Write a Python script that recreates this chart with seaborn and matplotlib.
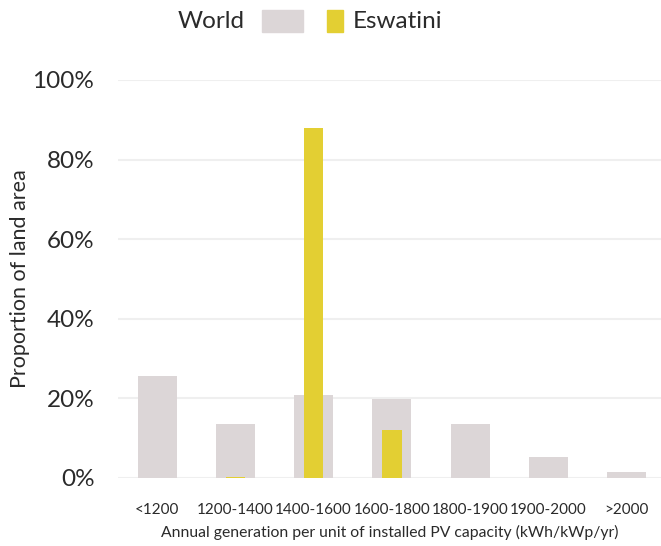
import matplotlib.pyplot as plt
import matplotlib.patches as mpatches
import seaborn as sns
import pandas as pd

sns.set_theme(style="white")
plt.rcParams['font.family'] = ['Lato', 'DejaVu Sans']

# --- DATA ---
categories = ['<1200', '1200-1400', '1400-1600', '1600-1800', '1800-1900', '1900-2000', '>2000']
world = [25.6, 13.6, 20.9, 19.8, 13.6, 5.3, 1.5]
eswatini = [0.0, 0.3, 87.9, 12.0, 0.0, 0.0, 0.0]

world_color = '#dcd6d7'
esw_color = '#e3cf33'
text_color = '#2a2a2a'

df = pd.DataFrame({'bin': categories, 'World': world, 'Eswatini': eswatini})

fig = plt.figure(figsize=(6.61, 5.46), dpi=100)
ax = fig.add_axes([118 / 661, 1 - 478 / 546, 1 - 118 / 661, (478 - 80) / 546])

sns.barplot(data=df, x='bin', y='World', order=categories, color=world_color,
            width=0.5, saturation=1, linewidth=0, ax=ax, zorder=2)
sns.barplot(data=df, x='bin', y='Eswatini', order=categories, color=esw_color,
            width=0.25, saturation=1, linewidth=0, ax=ax, zorder=3)

ax.set_ylim(0, 100)
ax.set_xlim(-0.5, 6.44)
ax.set_yticks([0, 20, 40, 60, 80, 100])
ax.set_yticklabels([f"{v}%" for v in [0, 20, 40, 60, 80, 100]])
ax.yaxis.grid(True, color='#efefef', linewidth=1.5, zorder=0)
ax.set_axisbelow(True)
for s in ax.spines.values():
    s.set_visible(False)
ax.tick_params(axis='y', length=0, pad=17, labelsize=17.5, labelcolor=text_color)
ax.tick_params(axis='x', length=0, pad=18, labelsize=11, labelcolor=text_color)

ax.set_ylabel('Proportion of land area', fontsize=15.5, color=text_color, labelpad=2)
ax.set_xlabel('Annual generation per unit of installed PV capacity (kWh/kWp/yr)',
              fontsize=11.3, color=text_color, labelpad=6)

# legend at top
fig.text(245 / 661, 1 - 21 / 546, 'World', ha='right', va='center', fontsize=17.5, color=text_color)
fig.patches.append(mpatches.Rectangle((262 / 661, 1 - 32 / 546), 41 / 661, 22 / 546,
                                      transform=fig.transFigure, color=world_color))
fig.patches.append(mpatches.Rectangle((327 / 661, 1 - 32 / 546), 16 / 661, 22 / 546,
                                      transform=fig.transFigure, color=esw_color))
fig.text(353 / 661, 1 - 21 / 546, 'Eswatini', ha='left', va='center', fontsize=17.5, color=text_color)

fig.savefig('out.png', dpi=100)
